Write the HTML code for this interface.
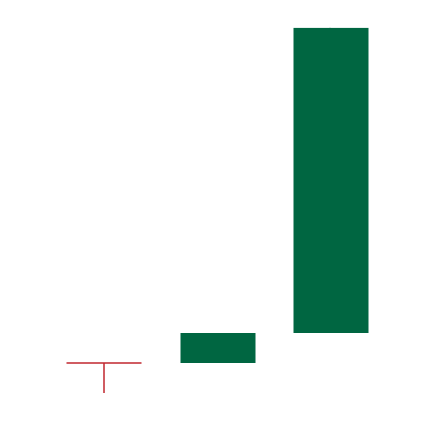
<!DOCTYPE html>
<html><head><meta charset="utf-8"><style>html,body{margin:0;padding:0;background:#fff;}svg{display:block}</style></head>
<body>
<svg id="chart" width="434" height="422" xmlns="http://www.w3.org/2000/svg"></svg>
<script>
const categories = ["c1","c2","c3"];
const opens  = [10, 10, 20];
const closes = [10, 20, 121.7];
const highs  = [10, 20, 121.7];
const lows   = [0, 10, 20];
const svg = document.getElementById('chart');
const NS = 'http://www.w3.org/2000/svg';
function xCenter(i){ return 104 + i*113; }
function yScale(v){ return 393 - v*3; }
const halfW = 37.5;
categories.forEach((c,i)=>{
  const o=opens[i], cl=closes[i];
  const up = cl>o;
  const col = up ? '#006641' : '#c0262e';
  const cx = xCenter(i);
  const wick = document.createElementNS(NS,'line');
  
  
  wick.setAttribute('x1',cx); wick.setAttribute('x2',cx);
  wick.setAttribute('y1',yScale(highs[i])); wick.setAttribute('y2',yScale(lows[i]));
  wick.setAttribute('stroke',col); wick.setAttribute('stroke-width',1.5);
  svg.appendChild(wick);
  const top = yScale(Math.max(o,cl)), bot = yScale(Math.min(o,cl));
  if (bot - top < 1) {
    const l = document.createElementNS(NS,'line');
    
    
    l.setAttribute('x1',cx-halfW); l.setAttribute('x2',cx+halfW);
    l.setAttribute('y1',top); l.setAttribute('y2',top);
    l.setAttribute('stroke',col); l.setAttribute('stroke-width',1.5);
    svg.appendChild(l);
  } else {
    const r = document.createElementNS(NS,'rect');
    
    
    r.setAttribute('x',cx-halfW+1); r.setAttribute('width',2*halfW);
    r.setAttribute('y',top); r.setAttribute('height',bot-top);
    r.setAttribute('fill',col);
    svg.appendChild(r);
  }
});
</script>
</body></html>
